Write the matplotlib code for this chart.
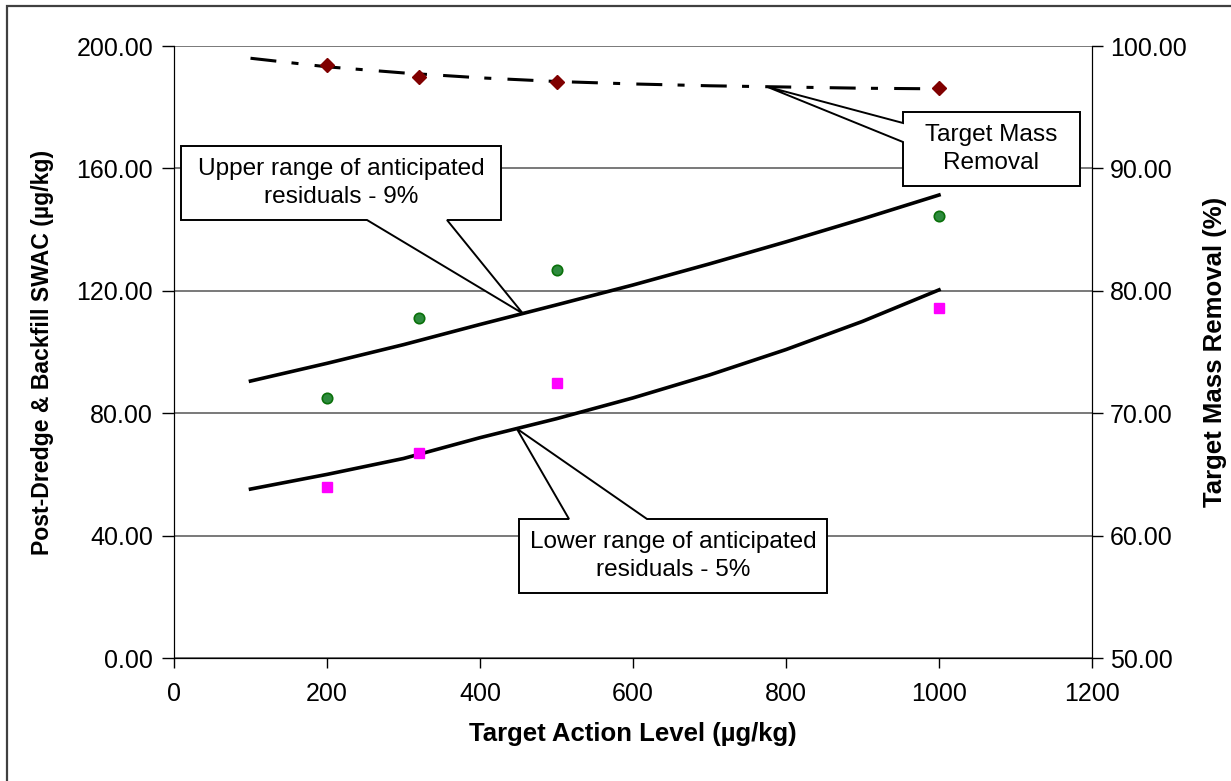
import numpy as np
import matplotlib
matplotlib.use('Agg')
import matplotlib.pyplot as plt
from matplotlib.patches import Polygon, Rectangle

plt.rcParams['font.family'] = ['Liberation Sans', 'DejaVu Sans']

# curves
line_x = [100, 200, 300, 400, 500, 600, 700, 800, 900, 1000]
upper_9 = [90.5, 96.3, 102.4, 109.0, 115.4, 121.9, 128.8, 136.0, 143.5, 151.3]
lower_5 = [55.2, 60.0, 65.2, 72.0, 78.2, 85.0, 92.5, 100.8, 110.0, 120.3]
mass_removal = [99.0, 98.3, 97.8, 97.4, 97.1, 96.9, 96.75, 96.65, 96.55, 96.5]

# measured points
pt_x = [200, 320, 500, 1000]
upper_pts = [85.0, 111.1, 126.8, 144.4]
lower_pts = [55.9, 67.0, 89.9, 114.4]
mass_pts = [98.45, 97.5, 97.06, 96.57]

x_ticks = [0, 200, 400, 600, 800, 1000, 1200]
left_ticks = [0, 40, 80, 120, 160, 200]
right_ticks = [50, 60, 70, 80, 90, 100]

fig = plt.figure(figsize=(12.31, 7.81), dpi=100)
fig.patches.append(Rectangle((7 / 1231, -0.1), 1.2, 1 - 6 / 781 + 0.1,
                             transform=fig.transFigure, fill=False,
                             ec='#404040', lw=1.6))

ax = fig.add_axes([174 / 1231, 123 / 781, 918 / 1231, 612 / 781])
ax2 = ax.twinx()

ax.set_xlim(0, 1200)
ax.set_ylim(0, 200)
ax2.set_ylim(50, 100)
ax.set_xticks(x_ticks)
ax.set_yticks(left_ticks)
ax2.set_yticks(right_ticks)
ax.set_yticklabels(['%.2f' % v for v in left_ticks])
ax2.set_yticklabels(['%.2f' % v for v in right_ticks])
ax.grid(axis='y', color='#555555', lw=1.1)
ax.set_axisbelow(True)

for a in (ax, ax2):
    a.spines['top'].set_visible(False)
    a.tick_params(labelsize=18, width=1, colors='black')
ax.tick_params(axis='y', length=9, pad=6)
ax.tick_params(axis='x', length=7, pad=10)
ax2.tick_params(axis='y', length=8, pad=5)

ax.plot(line_x, upper_9, color='black', lw=2.6, zorder=3)
ax.plot(line_x, lower_5, color='black', lw=2.6, zorder=3)
ax.plot(pt_x, upper_pts, 'o', ms=7.5, mfc='#2e8b3e', mec='#0a700a', mew=1.2, zorder=4)
ax.plot(pt_x, lower_pts, 's', ms=7.5, mfc='#ff00ff', mec='#ff00ff', zorder=4)

ax2.plot(line_x, mass_removal, color='black', lw=2.2, ls=(0, (8.5, 5, 2.3, 5.3)), zorder=3)
ax2.plot(pt_x, mass_pts, 'D', ms=6.8, mfc='#800000', mec='#800000', zorder=4)

ax.set_xlabel('Target Action Level (µg/kg)', fontsize=18.5, fontweight='bold', labelpad=12)
ax.set_ylabel('Post-Dredge & Backfill SWAC (µg/kg)', fontsize=16.6, fontweight='bold', labelpad=16)
ax2.set_ylabel('Target Mass Removal (%)', fontsize=18.5, fontweight='bold', labelpad=12)


# callouts: box corners in pixels relative to axes origin, tip taken from the curves
def px(x, y):
    return ((x - 174) / 0.765, (658 - y) / 3.06)


def callout(verts, tip_idx, tip, text, tx, ty):
    pts = [px(*v) for v in verts]
    pts.insert(tip_idx, tip)
    ax2.add_patch(Polygon(pts, closed=True, fc='white', ec='black', lw=1.4,
                          transform=ax.transData, zorder=5))
    cx, cy = px(tx, ty)
    ax2.text(cx, cy, text, transform=ax.transData, ha='center', va='center',
             fontsize=17.6, linespacing=1.3, zorder=6)


tip_u = (456, float(np.interp(456, line_x, upper_9)))
callout([(181, 146), (501, 146), (501, 220), (447, 220), (367, 220), (181, 220)],
        4, tip_u, 'Upper range of anticipated\nresiduals - 9%', 341, 183)

tip_l = (448, float(np.interp(448, line_x, lower_5)))
callout([(519, 519), (569, 519), (647, 519), (827, 519), (827, 593), (519, 593)],
        2, tip_l, 'Lower range of anticipated\nresiduals - 5%', 673, 556)

m = float(np.interp(775, line_x, mass_removal))
tip_m = (775, (m - 50) * 4)
callout([(903, 112), (1080, 112), (1080, 186), (903, 186), (903, 142), (903, 123)],
        5, tip_m, 'Target Mass\nRemoval', 991, 149)

fig.savefig('out.png', dpi=100)
